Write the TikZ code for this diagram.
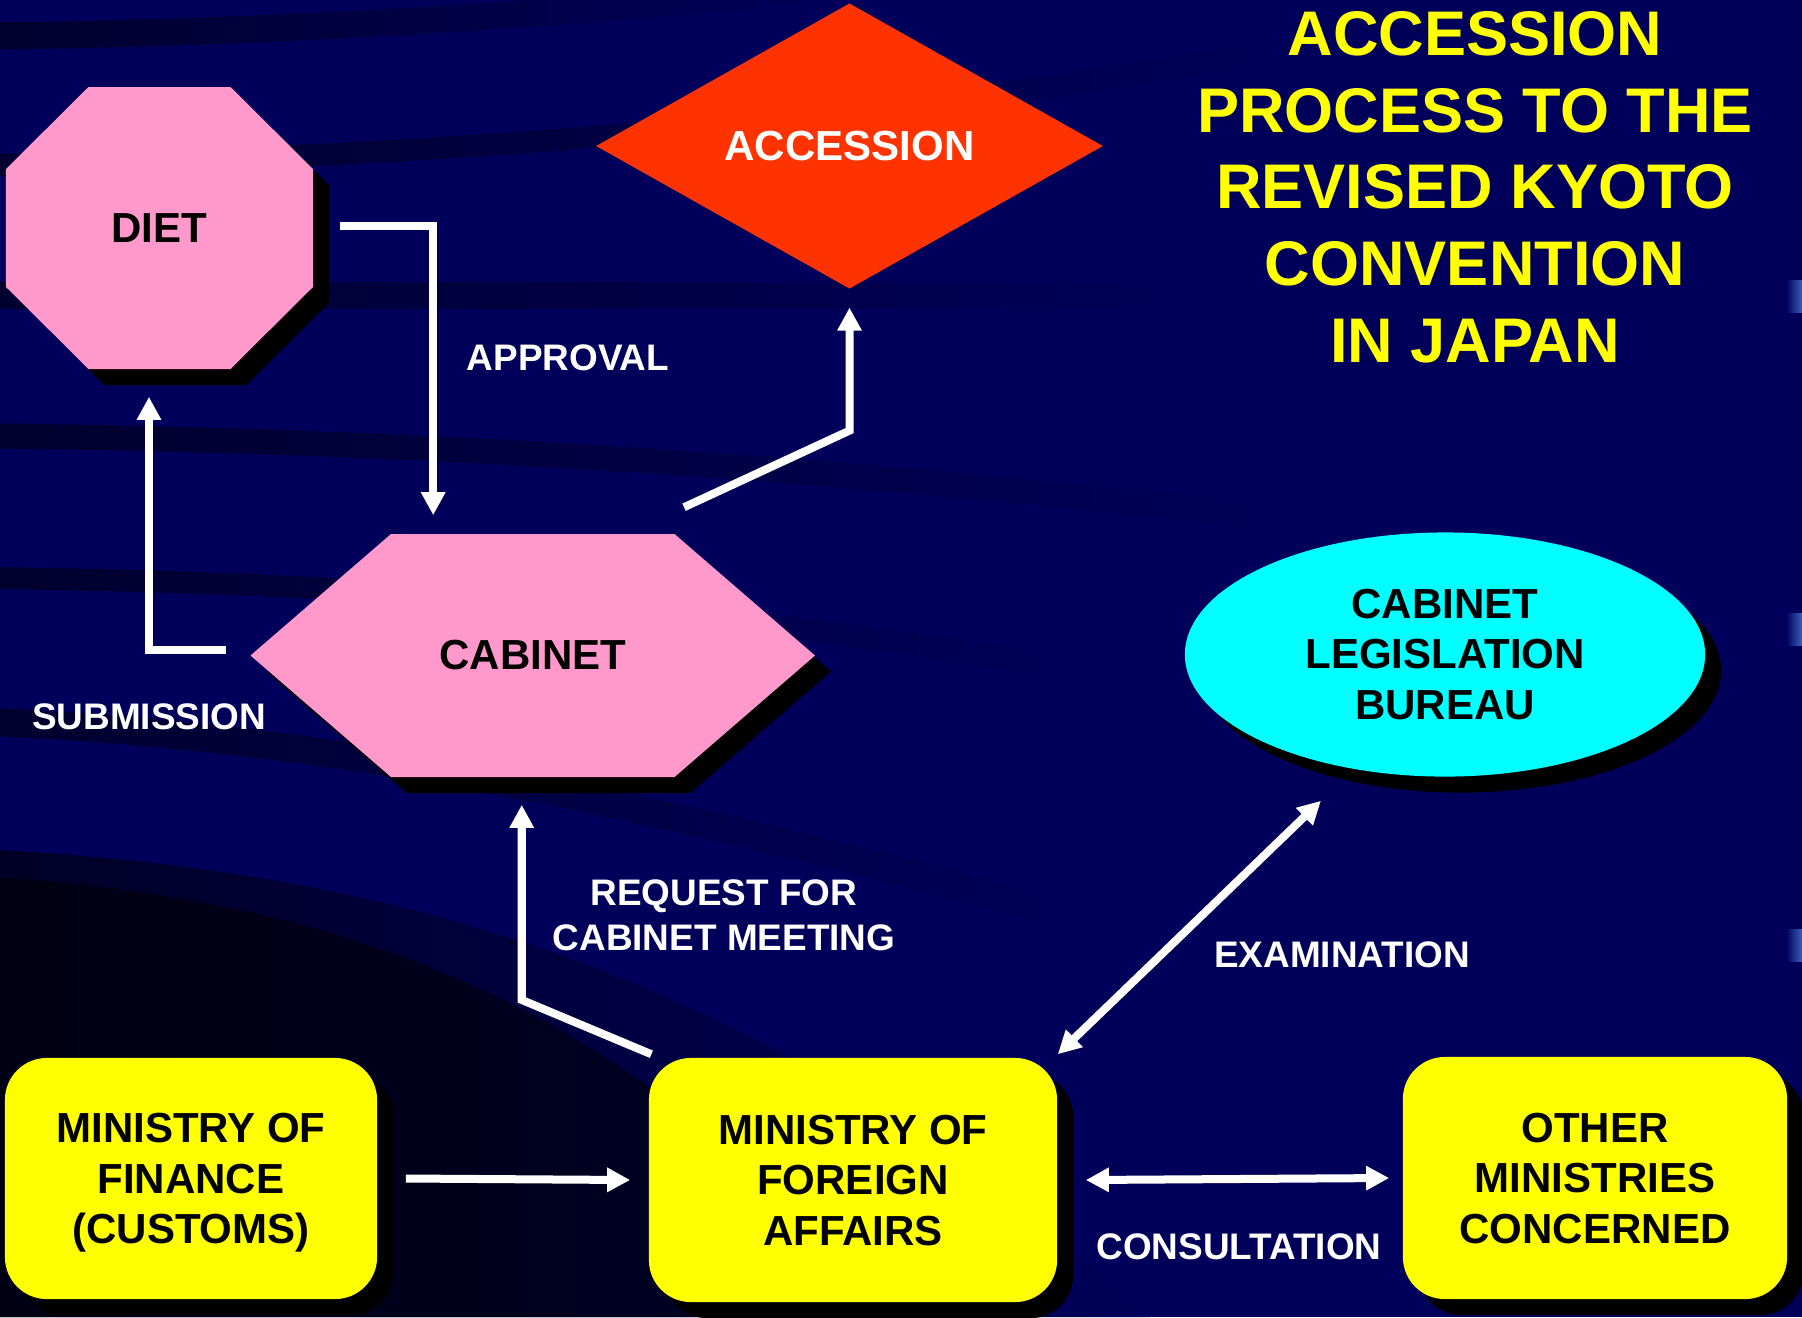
\documentclass[tikz,border=0pt]{standalone}
\usepackage{fontspec}
\setmainfont{Liberation Sans}
\usepackage{xcolor}
\usetikzlibrary{arrows.meta,shapes.geometric,shadows,fadings}

\definecolor{bgnavy}{RGB}{0,0,90}
\definecolor{bgstreak}{RGB}{0,0,45}
\definecolor{bgdeep}{RGB}{0,0,38}
\definecolor{bgdeeper}{RGB}{0,0,20}
\definecolor{edgeblue}{RGB}{60,95,190}
\definecolor{dietpink}{RGB}{255,153,204}
\definecolor{accred}{RGB}{255,51,0}
\definecolor{bureaucyan}{RGB}{0,255,255}
\definecolor{titleyellow}{RGB}{255,255,0}

\tikzset{
  shadowed/.style={drop shadow={shadow xshift=.16cm,shadow yshift=-.16cm,opacity=1,fill=black}},
  bodytxt/.style={font=\fontsize{11.95}{14.4}\selectfont\bfseries,align=center,inner sep=0pt},
  lbl/.style={text=white,font=\fontsize{10.5}{12.8}\selectfont\bfseries,align=center,inner sep=0pt},
  flow/.style={draw=white,line width=.08cm,-{Triangle[length=.23cm,width=.23cm]}},
  twoway/.style={flow,{Triangle[length=.23cm,width=.23cm]}-{Triangle[length=.23cm,width=.23cm]}},
  ministry/.style={bodytxt,text depth=0pt,rectangle,rounded corners=.42cm,fill=titleyellow,shadowed}
}

\begin{document}
\begin{tikzpicture}[x=.01cm,y=-.01cm]
  \useasboundingbox (0,0) rectangle (1802,1317);
  \clip (0,0) rectangle (1802,1317);
  \fill[bgnavy] (0,0) rectangle (1802,1317);
  \draw[bgstreak,line width=.27cm,path fading=east] (-10,36) .. controls (300,32) and (550,15) .. (820,-12);
  \draw[bgstreak,line width=.22cm,path fading=east] (-10,165) .. controls (400,160) and (850,125) .. (1250,55);
  \draw[bgstreak,line width=.27cm,path fading=east] (-10,295) -- (1150,295);
  \draw[bgstreak,line width=.25cm,path fading=east] (-10,436) .. controls (400,440) and (800,465) .. (1250,515);
  \draw[bgstreak,line width=.22cm,path fading=east] (-10,578) .. controls (300,582) and (650,600) .. (1050,665);
  \draw[bgstreak,line width=.28cm,path fading=east] (-10,722) .. controls (300,735) and (600,790) .. (1050,910);
  \shade[left color=bgdeep,right color=bgnavy] (0,850) .. controls (350,870) and (750,950) .. (1150,1317) -- (0,1317) -- cycle;
  \shade[left color=bgdeeper,right color=bgdeep] (0,877) .. controls (300,900) and (600,970) .. (900,1317) -- (0,1317) -- cycle;
  \foreach \y in {280,613,929}
    \shade[left color=bgnavy,right color=edgeblue] (1786,\y) rectangle (1802,\y+32);

  \fill[dietpink,shadowed,shift={(159.5,228)}] (-153.5,-59) -- (-71,-141) -- (71,-141) -- (153.5,-59)
    -- (153.5,59) -- (71,141) -- (-71,141) -- (-153.5,59) -- cycle;
  \fill[dietpink,shadowed,shift={(532.75,655.5)}] (-282.25,0) -- (-141.75,-121.5) -- (141.75,-121.5)
    -- (282.25,0) -- (141.75,121.5) -- (-141.75,121.5) -- cycle;

  \node[bodytxt,minimum width=3.07cm,minimum height=2.82cm] (diet) at (159.5,228) {DIET};
  \node[diamond,minimum width=5.07cm,minimum height=2.855cm,fill=accred,text=white,bodytxt] (accession) at (849.5,146) {ACCESSION};
  \node[bodytxt,minimum width=5.645cm,minimum height=2.43cm] (cabinet) at (532.75,655.5) {CABINET};
  \node[ellipse,minimum width=5.2cm,minimum height=2.44cm,fill=bureaucyan,shadowed,bodytxt] (bureau) at (1445,654.5) {CABINET\\LEGISLATION\\BUREAU};
  \node[ministry,minimum width=3.72cm,minimum height=2.41cm] (finance) at (191,1178.5) {MINISTRY OF\\FINANCE\\(CUSTOMS)};
  \node[ministry,minimum width=4.08cm,minimum height=2.44cm] (foreign) at (853,1180) {MINISTRY OF\\FOREIGN\\AFFAIRS};
  \node[ministry,minimum width=3.84cm,minimum height=2.42cm] (other) at (1595,1178) {OTHER\\MINISTRIES\\CONCERNED};

  \node[text=titleyellow,font=\fontsize{17.93}{21.8}\selectfont\bfseries,align=center,inner sep=0pt] (title) at (1475,187)
    {ACCESSION\\PROCESS TO THE\\REVISED KYOTO\\CONVENTION\\IN JAPAN};

  \node[lbl] (approval) at (568,358) {APPROVAL};
  \node[lbl] (submission) at (149,717) {SUBMISSION};
  \node[lbl] (request) at (724,915.5) {REQUEST FOR\\CABINET MEETING};
  \node[lbl] (examination) at (1342,955) {EXAMINATION};
  \node[lbl] (consultation) at (1239,1247) {CONSULTATION};

  \draw[flow] ([xshift=.26cm,yshift=.02cm]diet.east) -| ([xshift=-.995cm,yshift=.18cm]cabinet.north);
  \draw[flow] ([xshift=-.235cm,yshift=.06cm]cabinet.west) -| ([xshift=-.105cm,yshift=-.27cm]diet.south);
  \draw[flow] ([xshift=1.5125cm,yshift=.26cm]cabinet.north) -- ([yshift=-1.41cm]accession.south) -- ([yshift=-.18cm]accession.south);
  \draw[flow] ([xshift=-2.015cm,yshift=.03cm]foreign.north) -- ([xshift=-.11cm,yshift=-2.22cm]cabinet.south) -- ([xshift=-.11cm,yshift=-.27cm]cabinet.south);
  \draw[flow] ([xshift=.28cm]finance.east) -- ([xshift=-.18cm]foreign.west);
  \draw[twoway] ([xshift=.28cm]foreign.east) -- ([xshift=-.13cm]other.west);
  \draw[twoway] ([yshift=.03cm]foreign.north east) -- ([xshift=-1.24cm,yshift=-.235cm]bureau.south);
\end{tikzpicture}
\end{document}
